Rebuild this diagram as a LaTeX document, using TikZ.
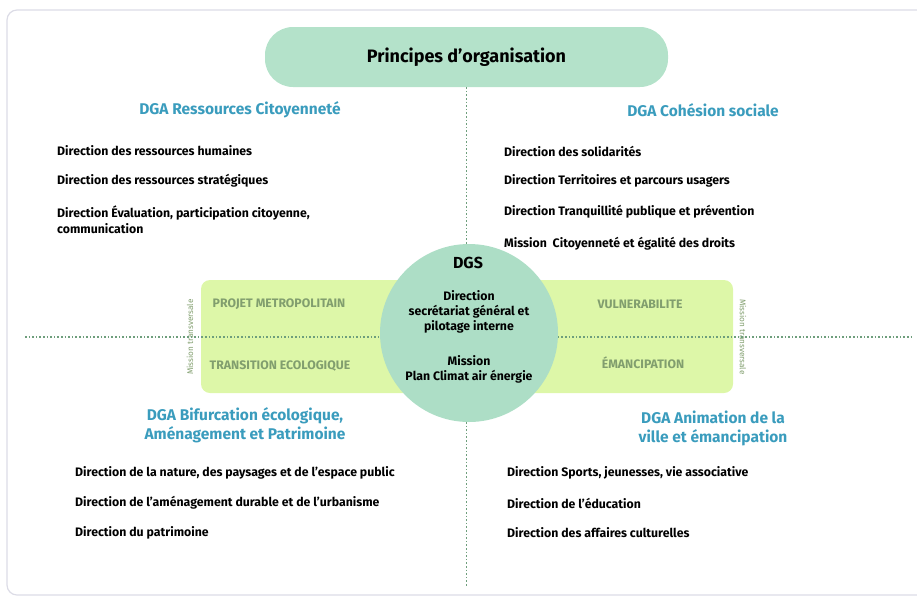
\documentclass[tikz,border=0pt]{standalone}
\usepackage{fontspec}
\setmainfont{Fira Sans}
\definecolor{pillgreen}{HTML}{B4E2CA}
\definecolor{dgsgreen}{HTML}{ADDEC6}
\definecolor{limegreen}{HTML}{DDF7A8}
\definecolor{dgablue}{HTML}{3A9CBD}
\definecolor{axisgreen}{HTML}{6E9E7C}
\definecolor{labelgreen}{HTML}{819E6E}
\definecolor{framegray}{HTML}{DCDCE6}

\begin{document}
\begin{tikzpicture}[x=1pt,y=-1pt]
  \tikzstyle{every node}+=[inner sep=0pt]
  \tikzstyle{item}=[anchor=west, align=left, font=\fontsize{12.3}{16}\selectfont\bfseries]
  \tikzstyle{dga}=[align=center, text=dgablue, font=\fontsize{15.5}{19}\selectfont\bfseries]
  \tikzstyle{theme}=[text=labelgreen, font=\fontsize{12.3}{14}\selectfont\bfseries]
  \tikzstyle{transv}=[text=labelgreen, font=\fontsize{8.2}{9}\selectfont]
  \tikzstyle{axis}=[axisgreen, line width=1.6pt, dotted]
  \useasboundingbox (0,0) rectangle (917,598);
  \draw [framegray, line width=1.2pt, rounded corners=10pt] (7,10) rectangle (930,595);
  % titre
  \node (titre) [fill=pillgreen, rounded corners=28pt, minimum width=403pt, minimum height=60pt,
    font=\fontsize{18}{20}\selectfont\bfseries] at (466.5,57) {Principes d'organisation};
  % bandeau des missions transversales
  \fill [limegreen, rounded corners=9pt] (201,280) rectangle (733,393);
  \node (projet) [theme] at (279,304) {PROJET METROPOLITAIN};
  \node (transition) [theme] at (280,366) {TRANSITION ECOLOGIQUE};
  \node (vulner) [theme] at (640,304) {VULNERABILITE};
  \node (emancip) [theme] at (643,363) {ÉMANCIPATION};
  \node (mtg) [transv, rotate=90] at (190,337) {Mission transversale};
  \node (mtd) [transv, rotate=-90] at (743,337) {Mission transversale};
  % axes
  \coordinate (basaxe) at (466.5,586);
  \coordinate (gauche) at (25,337);
  \coordinate (droite) at (912,337);
  \draw [axis] (titre.south) -- (basaxe);
  \draw [axis] (gauche) -- (droite);
  % DGS
  \node (dgs) [circle, fill=dgsgreen, minimum size=178pt] at (469,333) {};
  \node (dgstitre) [font=\fontsize{16}{18}\selectfont\bfseries] at (468,263) {DGS};
  \node (secgen) [align=center, font=\fontsize{12.3}{15}\selectfont\bfseries] at (469,312)
    {Direction\\secrétariat général et\\pilotage interne};
  \node (climat) [align=center, font=\fontsize{12.3}{15}\selectfont\bfseries] at (469,369.5)
    {Mission\\Plan Climat air énergie};
  % DGA Ressources Citoyennete
  \node (ressources) [dga] at (240,110) {DGA Ressources Citoyenneté};
  \node (rh) [item] at (57,151) {Direction des ressources humaines};
  \node (rs) [item] at (57,181) {Direction des ressources stratégiques};
  \node (eval) [item] at (57,220) {Direction Évaluation, participation citoyenne,\\communication};
  % DGA Cohesion sociale
  \node (cohesion) [dga] at (703,110) {DGA Cohésion sociale};
  \node (solid) [item] at (504,151) {Direction des solidarités};
  \node (territ) [item] at (504,181) {Direction Territoires et parcours usagers};
  \node (tranq) [item] at (504,212) {Direction Tranquillité publique et prévention};
  \node (citoy) [item] at (504,244) {Mission\ \ Citoyenneté et égalité des droits};
  % DGA Bifurcation ecologique
  \node (bifurc) [dga] at (245,425) {DGA Bifurcation écologique,\\Aménagement et Patrimoine};
  \node (nature) [item] at (75,473) {Direction de la nature, des paysages et de l'espace public};
  \node (amenag) [item] at (75,503) {Direction de l'aménagement durable et de l'urbanisme};
  \node (patrim) [item] at (75,533) {Direction du patrimoine};
  % DGA Animation de la ville
  \node (animation) [dga] at (713,428) {DGA Animation de la\\ville et émancipation};
  \node (sports) [item] at (507,473) {Direction Sports, jeunesses, vie associative};
  \node (educ) [item] at (507,503) {Direction de l'éducation};
  \node (cult) [item] at (507,533) {Direction des affaires culturelles};
\end{tikzpicture}
\end{document}
